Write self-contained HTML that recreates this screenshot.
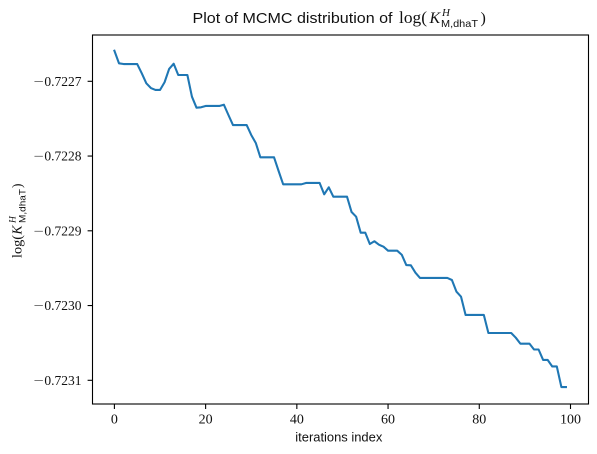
<!DOCTYPE html>
<html lang="en">
<head>
<meta charset="utf-8">
<title>Plot of MCMC distribution</title>
<style>
html,body{margin:0;padding:0;background:#fff;width:597px;height:454px;overflow:hidden}
svg{display:block}
.sans{font-family:"Liberation Sans",sans-serif;fill:#111}
.serif{font-family:"Liberation Serif",serif;fill:#111}
.it{font-family:"Liberation Serif",serif;font-style:italic;fill:#111}
.minus{font-family:"DejaVu Sans",sans-serif;font-weight:200}
</style>
</head>
<body>
<svg id="chart" xmlns="http://www.w3.org/2000/svg" width="597" height="454" viewBox="0 0 597 454">
  <rect x="92.5" y="35" width="496" height="369" fill="#fff"/>
  <g id="series"></g>
  <g id="xaxis"></g>
  <g id="yaxis"></g>
  <rect x="92.5" y="35" width="496" height="369" fill="none" stroke="#000" stroke-width="1.1"/>

  <g>
    <text class="sans" x="192.5" y="23" font-size="15" textLength="200" lengthAdjust="spacingAndGlyphs">Plot of MCMC distribution of</text>
    <text class="serif" x="399" y="23" font-size="16.5" textLength="28" lengthAdjust="spacingAndGlyphs">log(</text>
    <text class="it" x="429.5" y="23" font-size="16">K</text>
    <text class="it" x="442" y="16" font-size="11">H</text>
    <text class="sans" x="441" y="27" font-size="10.5" textLength="37" lengthAdjust="spacingAndGlyphs">M,dhaT</text>
    <text class="serif" x="480.5" y="23" font-size="16">)</text>
  </g>

  <text class="sans" x="295.3" y="441.7" font-size="12.7" textLength="87" lengthAdjust="spacingAndGlyphs">iterations index</text>

  <g transform="translate(21.7,258) rotate(-90)">
    <text class="serif" x="0" y="0" font-size="13.5" textLength="23" lengthAdjust="spacingAndGlyphs">log(</text>
    <text class="it" x="23.5" y="0" font-size="13.5">K</text>
    <text class="it" x="35" y="-6" font-size="9.5">H</text>
    <text class="sans" x="35" y="4" font-size="9" textLength="34" lengthAdjust="spacingAndGlyphs">M,dhaT</text>
    <text class="serif" x="70" y="0" font-size="13.5">)</text>
  </g>
</svg>
<script>
const iterations = [
  0,1,2,3,4,5,6,7,8,9,10,11,12,13,14,15,16,17,18,19,
  20,21,22,23,24,25,26,27,28,29,30,31,32,33,34,35,36,37,38,39,
  40,41,42,43,44,45,46,47,48,49,50,51,52,53,54,55,56,57,58,59,
  60,61,62,63,64,65,66,67,68,69,70,71,72,73,74,75,76,77,78,79,
  80,81,82,83,84,85,86,87,88,89,90,91,92,93,94,95,96,97,98,99
];
const logK = [
  -0.7226591,-0.7226759,-0.7226769,-0.7226769,-0.7226769,-0.7226769,-0.7226893,-0.7227027,-0.7227090,-0.7227116,
  -0.7227116,-0.7227013,-0.7226835,-0.7226765,-0.7226916,-0.7226916,-0.7226916,-0.7227206,-0.7227353,-0.7227348,
  -0.7227330,-0.7227330,-0.7227330,-0.7227330,-0.7227313,-0.7227451,-0.7227585,-0.7227585,-0.7227585,-0.7227585,
  -0.7227718,-0.7227825,-0.7228017,-0.7228017,-0.7228017,-0.7228017,-0.7228200,-0.7228378,-0.7228378,-0.7228378,
  -0.7228378,-0.7228378,-0.7228360,-0.7228360,-0.7228360,-0.7228360,-0.7228512,-0.7228418,-0.7228544,-0.7228544,
  -0.7228544,-0.7228544,-0.7228749,-0.7228811,-0.7229025,-0.7229025,-0.7229177,-0.7229140,-0.7229186,-0.7229213,
  -0.7229266,-0.7229266,-0.7229266,-0.7229320,-0.7229458,-0.7229462,-0.7229560,-0.7229631,-0.7229631,-0.7229631,
  -0.7229631,-0.7229631,-0.7229631,-0.7229631,-0.7229658,-0.7229815,-0.7229882,-0.7230126,-0.7230126,-0.7230126,
  -0.7230126,-0.7230126,-0.7230367,-0.7230367,-0.7230367,-0.7230367,-0.7230367,-0.7230367,-0.7230430,-0.7230510,
  -0.7230510,-0.7230510,-0.7230588,-0.7230588,-0.7230728,-0.7230728,-0.7230815,-0.7230815,-0.7231090,-0.7231090
];
const xTickValues = [0,20,40,60,80,100];
const xTickLabels = ["0","20","40","60","80","100"];
const yTickValues = [-0.7227,-0.7228,-0.7229,-0.7230,-0.7231];
const yTickDigits = ["0.7227","0.7228","0.7229","0.7230","0.7231"];

function xScale(v){ return 114.4 + v * 4.561; }
function yScale(v){ return 81.3 + (-0.7227 - v) * 747500; }

const NS = "http://www.w3.org/2000/svg";
function make(tag, attrs){
  const el = document.createElementNS(NS, tag);
  for (const k in attrs) el.setAttribute(k, attrs[k]);
  return el;
}

const seriesLayer = document.getElementById("series");
const line = make("polyline", {
  points: iterations.map((v,i) => xScale(v).toFixed(2) + "," + yScale(logK[i]).toFixed(2)).join(" "),
  fill: "none", stroke: "#1f77b4", "stroke-width": "2.08", "stroke-linejoin": "round", "stroke-linecap": "square"
});


seriesLayer.appendChild(line);

const xAxis = document.getElementById("xaxis");
xTickValues.forEach((v,i) => {
  const px = xScale(v);
  const tick = make("line", {x1:px, x2:px, y1:404, y2:409, stroke:"#000", "stroke-width":"1.1"});
  
  
  xAxis.appendChild(tick);
  const label = make("text", {x:px, y:423.3, "text-anchor":"middle", "font-size":"14", class:"serif"});
  
  
  label.textContent = xTickLabels[i];
  xAxis.appendChild(label);
});

const yAxis = document.getElementById("yaxis");
yTickValues.forEach((v,i) => {
  const py = yScale(v);
  const tick = make("line", {x1:87.6, x2:92.5, y1:py, y2:py, stroke:"#000", "stroke-width":"1.1"});
  
  
  yAxis.appendChild(tick);
  const label = make("text", {x:33, y:py + 4.6, "font-size":"14", class:"serif", textLength:"48.5", lengthAdjust:"spacingAndGlyphs"});
  
  
  const minus = make("tspan", {class:"minus"});
  minus.textContent = "\u2212";
  label.appendChild(minus);
  label.appendChild(document.createTextNode(yTickDigits[i]));
  yAxis.appendChild(label);
});
</script>
</body>
</html>
